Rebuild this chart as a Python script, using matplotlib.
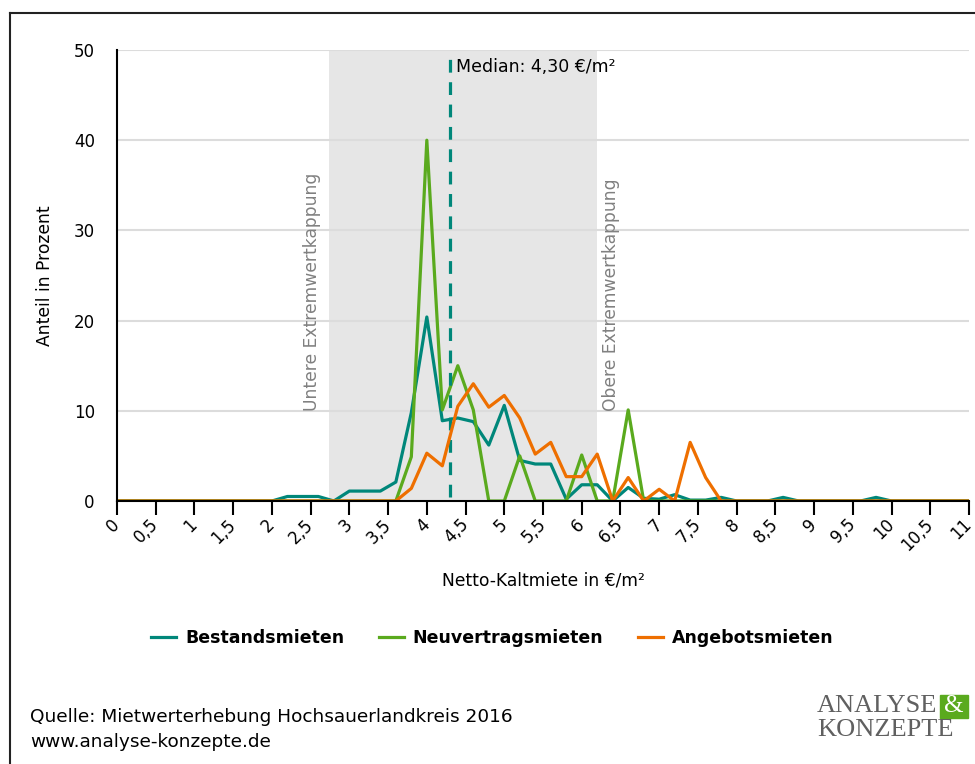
import matplotlib.pyplot as plt
from matplotlib.lines import Line2D
from matplotlib.patches import Rectangle

# Mietpreisklassen (Schrittweite 0,2 €/m²)
miete = [0.0, 0.2, 0.4, 0.6, 0.8, 1.0, 1.2, 1.4, 1.6, 1.8,
         2.0, 2.2, 2.4, 2.6, 2.8, 3.0, 3.2, 3.4, 3.6, 3.8,
         4.0, 4.2, 4.4, 4.6, 4.8, 5.0, 5.2, 5.4, 5.6, 5.8,
         6.0, 6.2, 6.4, 6.6, 6.8, 7.0, 7.2, 7.4, 7.6, 7.8,
         8.0, 8.2, 8.4, 8.6, 8.8, 9.0, 9.2, 9.4, 9.6, 9.8,
         10.0, 10.2, 10.4, 10.6, 10.8, 11.0]

bestand = [0, 0, 0, 0, 0, 0, 0, 0, 0, 0,
           0, 0.5, 0.5, 0.5, 0, 1.1, 1.1, 1.1, 2.1, 9.8,
           20.4, 8.9, 9.2, 8.8, 6.2, 10.6, 4.5, 4.1, 4.1, 0.2,
           1.8, 1.8, 0, 1.5, 0.3, 0.2, 0.7, 0.1, 0.1, 0.4,
           0, 0, 0, 0.4, 0, 0, 0, 0, 0, 0.4,
           0, 0, 0, 0, 0, 0]

neuvertrag = [0, 0, 0, 0, 0, 0, 0, 0, 0, 0,
              0, 0, 0, 0, 0, 0, 0, 0, 0, 4.9,
              40.0, 10.1, 15.0, 10.1, 0, 0, 5.0, 0, 0, 0,
              5.1, 0, 0, 10.1, 0, 0, 0, 0, 0, 0,
              0, 0, 0, 0, 0, 0, 0, 0, 0, 0,
              0, 0, 0, 0, 0, 0]

angebot = [0, 0, 0, 0, 0, 0, 0, 0, 0, 0,
           0, 0, 0, 0, 0, 0, 0, 0, 0, 1.4,
           5.3, 3.9, 10.5, 13.0, 10.4, 11.7, 9.2, 5.2, 6.5, 2.7,
           2.7, 5.2, 0, 2.6, 0, 1.3, 0, 6.5, 2.6, 0,
           0, 0, 0, 0, 0, 0, 0, 0, 0, 0,
           0, 0, 0, 0, 0, 0]

median = 4.30
kappung_unten = 2.735
kappung_oben = 6.2

xticks = [i * 0.5 for i in range(23)]
xticklabels = ["0", "0,5", "1", "1,5", "2", "2,5", "3", "3,5", "4", "4,5", "5", "5,5",
               "6", "6,5", "7", "7,5", "8", "8,5", "9", "9,5", "10", "10,5", "11"]

teal = "#00877a"
green = "#5aaa1e"
orange = "#ee6f00"

plt.rcParams["font.family"] = "DejaVu Sans"

fig = plt.figure(figsize=(9.75, 7.64), dpi=100)
ax = fig.add_axes([117 / 975, 1 - 501 / 764, (969 - 117) / 975, (501 - 50) / 764])

# Kappungsbereich
ax.axvspan(kappung_unten, kappung_oben, color="#e6e6e6", zorder=0, lw=0)

for y in [10, 20, 30, 40, 50]:
    ax.axhline(y, color="#dcdcdc", lw=1.5, zorder=1)

ax.plot(miete, bestand, color=teal, lw=2.3, zorder=3, label="Bestandsmieten")
ax.plot(miete, neuvertrag, color=green, lw=2.3, zorder=4, label="Neuvertragsmieten")
ax.plot(miete, angebot, color=orange, lw=2.3, zorder=5, label="Angebotsmieten")

ax.plot([median, median], [0.4, 50], color=teal, lw=2.3, ls=(0, (4, 3)), zorder=4.5)
ax.text(median + 0.08, 48.1, "Median: 4,30 €/m²", fontsize=12.5, va="center", ha="left")

ax.text(kappung_unten - 0.22, 10, "Untere Extremwertkappung", rotation=90,
        color="#808080", fontsize=12.3, ha="center", va="bottom")
ax.text(kappung_oben + 0.18, 10, "Obere Extremwertkappung", rotation=90,
        color="#808080", fontsize=12.3, ha="center", va="bottom")

ax.set_xlim(0, 11)
ax.set_ylim(0, 50)
ax.set_xticks(xticks)
ax.set_xticklabels(xticklabels, rotation=45, ha="right", va="center",
                   rotation_mode="anchor", fontsize=12)
ax.set_yticks([0, 10, 20, 30, 40, 50])
ax.tick_params(axis="x", direction="out", length=10, width=1.5, color="black", pad=5)
ax.tick_params(axis="y", length=0, pad=16, labelsize=12)

for s in ["top", "right"]:
    ax.spines[s].set_visible(False)
ax.spines["left"].set_linewidth(1.5)
ax.spines["bottom"].set_linewidth(1.5)
ax.spines["left"].set_zorder(6)
ax.spines["bottom"].set_zorder(6)

ax.set_xlabel("Netto-Kaltmiete in €/m²", fontsize=12.3, labelpad=12)
ax.set_ylabel("Anteil in Prozent", fontsize=12.3, labelpad=14)

leg = fig.legend(loc="center", bbox_to_anchor=(0.505, 1 - 638 / 764), ncol=3,
                 frameon=False, handlelength=1.45, columnspacing=2.0, handletextpad=0.5,
                 prop={"weight": "bold", "size": 12.5})

fig.text(30 / 975, 1 - 717 / 764, "Quelle: Mietwerterhebung Hochsauerlandkreis 2016",
         fontsize=13.3, va="center")
fig.text(30 / 975, 1 - 742 / 764, "www.analyse-konzepte.de", fontsize=13.3, va="center")

# Logo
fig.text(817 / 975, 1 - 706 / 764, "ANALYSE", family="Liberation Serif", fontsize=19,
         color="#606060", va="center")
fig.text(817 / 975, 1 - 730 / 764, "KONZEPTE", family="Liberation Serif", fontsize=19,
         color="#606060", va="center")
fig.patches.append(Rectangle((940 / 975, 1 - 718 / 764), 28 / 975, 23 / 764,
                             transform=fig.transFigure, color="#5aaa1e"))
fig.text(954 / 975, 1 - 706 / 764, "&", family="Liberation Serif", fontsize=18,
         color="white", va="center", ha="center")

# Rahmen
fig.lines.append(Line2D([9.5 / 975, 1], [1 - 13 / 764, 1 - 13 / 764],
                        transform=fig.transFigure, color="#222222", lw=1.5))
fig.lines.append(Line2D([9.5 / 975, 9.5 / 975], [0, 1 - 13 / 764],
                        transform=fig.transFigure, color="#222222", lw=1.5))

fig.savefig("out.png", dpi=100)
